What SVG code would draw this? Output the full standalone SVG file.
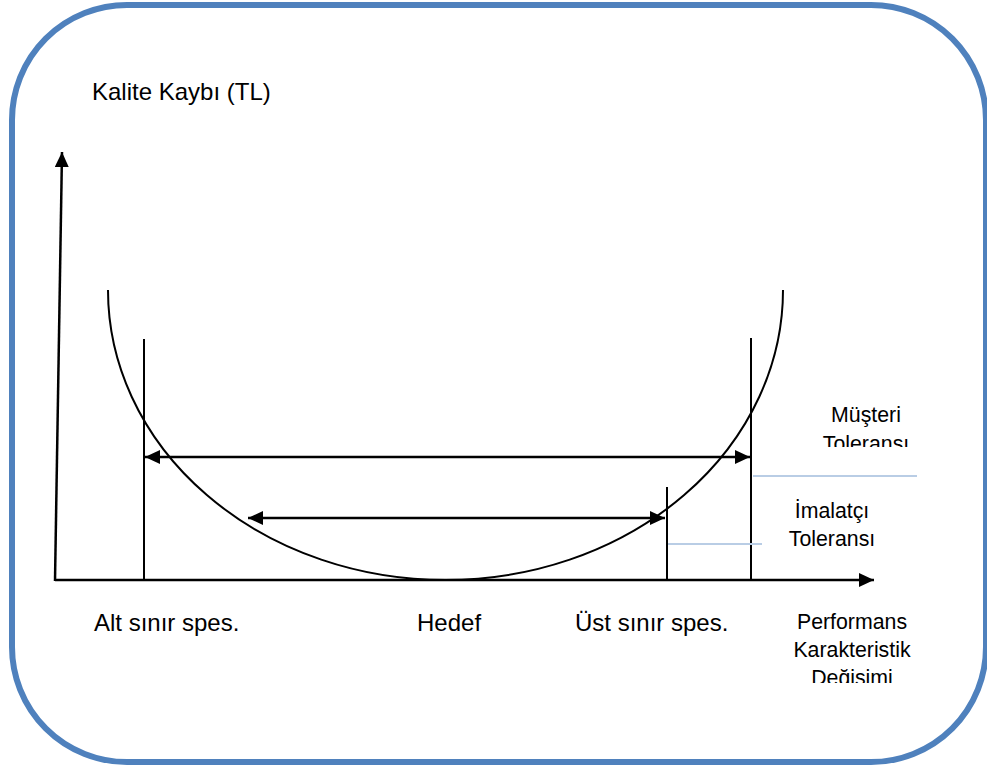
<svg xmlns="http://www.w3.org/2000/svg" width="987" height="767" viewBox="0 0 987 767">
  <style>
    .frame { fill: #ffffff; stroke: #4F81BD; stroke-width: 6; }
    .axis { fill: none; stroke: #000000; stroke-width: 2.5; }
    .limit { fill: none; stroke: #000000; stroke-width: 2; }
    .span { fill: none; stroke: #000000; stroke-width: 2.5; }
    .curve { fill: none; stroke: #000000; stroke-width: 2; }
    .leader { fill: none; stroke: #B9CDE5; stroke-width: 2; }
    .lbl { font-family: "Liberation Sans", Arial, sans-serif; font-size: 24px; fill: #000000; }
    .sm { font-family: "Liberation Sans", Arial, sans-serif; font-size: 21.3px; fill: #000000; text-anchor: middle; }
  </style>
  <defs>
    <marker id="tip" viewBox="0 0 15 14" markerUnits="userSpaceOnUse" markerWidth="15" markerHeight="14" refX="15" refY="7" orient="auto-start-reverse">
      <path d="M0,0 L15,7 L0,14 z" fill="#000000"/>
    </marker>
    <clipPath id="clipMusteri"><rect x="780" y="390" width="160" height="57"/></clipPath>
    <clipPath id="clipPerf"><rect x="760" y="600" width="180" height="83"/></clipPath>
  </defs>

  <!-- outer rounded frame -->
  <rect class="frame" x="12" y="5" width="974" height="757" rx="115" ry="115"/>

  <!-- loss curve -->
  <g id="loss-curve">
    <path class="curve" d="M108,290 A337.5,290 0 0 0 783,290"/>
  </g>

  <!-- specification limits -->
  <g id="lower-limit"><line class="limit" x1="144" y1="339" x2="144" y2="580"/></g>
  <g id="upper-limit-maker"><line class="limit" x1="667" y1="487" x2="667" y2="580"/></g>
  <g id="upper-limit-customer"><line class="limit" x1="751" y1="338" x2="751" y2="580"/></g>

  <g id="connectors">
    <!-- axes -->
    <line class="axis" x1="55" y1="581" x2="62" y2="152" marker-end="url(#tip)"/>
    <line class="axis" x1="55" y1="580" x2="874" y2="580" marker-end="url(#tip)"/>
    <!-- tolerance spans -->
    <line class="span" x1="145" y1="457" x2="750" y2="457" marker-start="url(#tip)" marker-end="url(#tip)"/>
    <line class="span" x1="248" y1="518" x2="665" y2="518" marker-start="url(#tip)" marker-end="url(#tip)"/>
    <!-- label leaders -->
    <line class="leader" x1="753" y1="476" x2="917" y2="476"/>
    <line class="leader" x1="668" y1="544" x2="762" y2="544"/>
  </g>

  <!-- labels -->
  <g id="y-label"><text class="lbl" x="92" y="100">Kalite Kaybı (TL)</text></g>
  <g id="lsl-label"><text class="lbl" x="94" y="631">Alt sınır spes.</text></g>
  <g id="target-label"><text class="lbl" x="417" y="631">Hedef</text></g>
  <g id="usl-label"><text class="lbl" x="575" y="631">Üst sınır spes.</text></g>

  <g id="customer-tolerance" clip-path="url(#clipMusteri)">
    <text class="sm" x="866" y="422">Müşteri</text>
    <text class="sm" x="866" y="451">Toleransı</text>
  </g>
  <g id="maker-tolerance">
    <text class="sm" x="832" y="518">İmalatçı</text>
    <text class="sm" x="832" y="546">Toleransı</text>
  </g>
  <g id="x-label" clip-path="url(#clipPerf)">
    <text class="sm" x="852" y="629">Performans</text>
    <text class="sm" x="852" y="657">Karakteristik</text>
    <text class="sm" x="852" y="685">Değişimi</text>
  </g>
</svg>
